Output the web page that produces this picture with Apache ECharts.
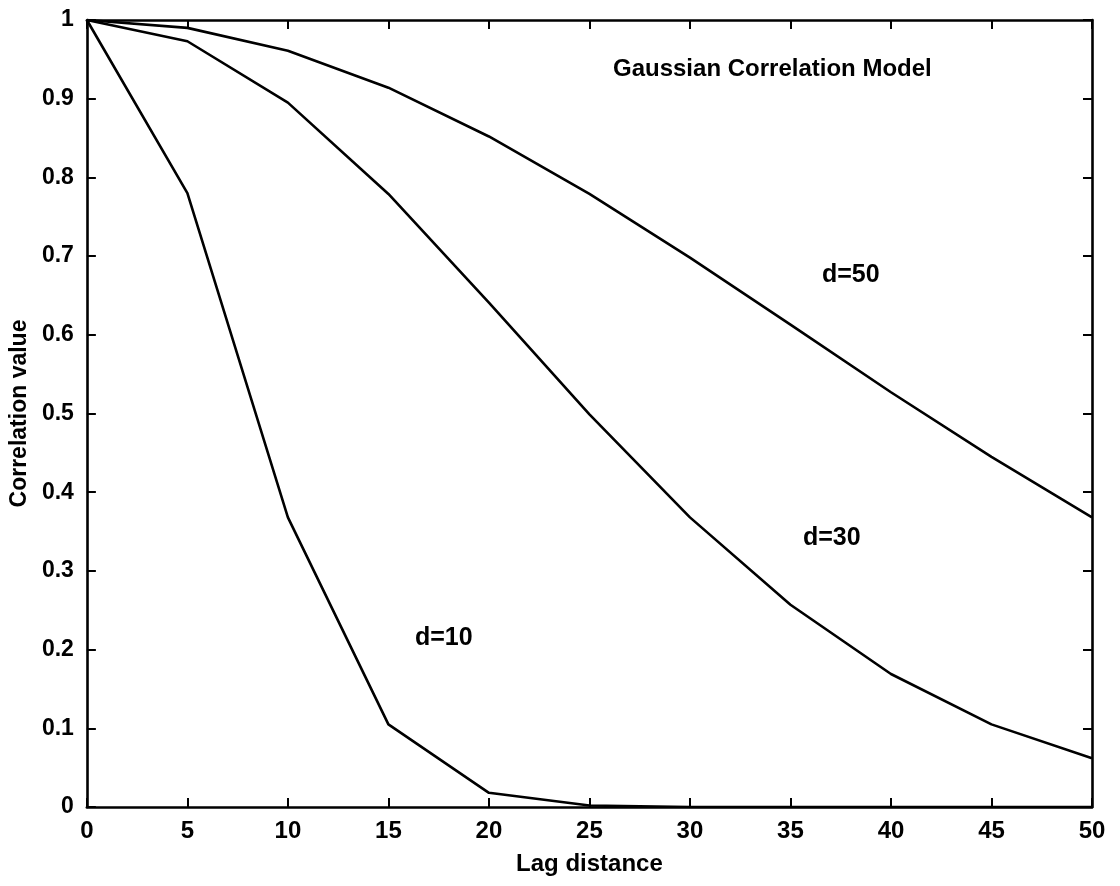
<!DOCTYPE html>
<html>
<head>
<meta charset="utf-8">
<script src="https://cdn.jsdelivr.net/npm/echarts@6/dist/echarts.min.js"></script>
<style>
html,body{margin:0;padding:0;background:#fff;}
#chart{width:1120px;height:886px;}
</style>
</head>
<body>
<div id="chart"></div>
<script>
const lags = [0, 5, 10, 15, 20, 25, 30, 35, 40, 45, 50];
const d10 = [1, 0.78, 0.368, 0.105, 0.018, 0.002, 0, 0, 0, 0, 0];
const d30 = [1, 0.973, 0.895, 0.779, 0.641, 0.499, 0.368, 0.257, 0.169, 0.105, 0.062];
const d50 = [1, 0.99, 0.961, 0.914, 0.852, 0.779, 0.698, 0.613, 0.527, 0.445, 0.368];
const curveLabels = ['d=10', 'd=30', 'd=50'];
const chartTitle = 'Gaussian Correlation Model';
const xTitle = 'Lag distance';
const yTitle = 'Correlation value';

const FONT = '"Liberation Sans", Arial, Helvetica, sans-serif';
const pair = (xs, ys) => xs.map((x, i) => [x, ys[i]]);

const chart = echarts.init(document.getElementById('chart'), null, {renderer: 'canvas'});

const lineStyle = {color: '#000', width: 2.6};
const mkSeries = (name, vals) => ({
  name: name, type: 'line', data: pair(lags, vals), xAxisIndex: 0, yAxisIndex: 0,
  showSymbol: false, symbol: 'none', smooth: false, lineStyle: lineStyle,
  itemStyle: {color: '#000'}, animation: false, z: 3
});

const baseAxisLine = {show: true, onZero: false, lineStyle: {color: '#000', width: 2.6}};
const baseTick = {show: true, inside: true, length: 9, lineStyle: {color: '#000', width: 2}};

chart.setOption({
  backgroundColor: '#fff',
  animation: false,
  grid: {left: 84, right: 28, top: 20, bottom: 79, containLabel: false},
  xAxis: [
    {type: 'value', min: 0, max: 50, interval: 5, position: 'bottom',
     axisLine: baseAxisLine, axisTick: baseTick, splitLine: {show: false},
     axisLabel: {color: '#000', fontFamily: FONT, fontWeight: 'bold', fontSize: 24, margin: 12},
     name: xTitle, nameLocation: 'middle', nameGap: 45,
     nameTextStyle: {color: '#000', fontFamily: FONT, fontWeight: 'bold', fontSize: 24}},
    {type: 'value', min: 0, max: 50, interval: 5, position: 'top',
     axisLine: baseAxisLine, axisTick: baseTick, splitLine: {show: false},
     axisLabel: {show: false}}
  ],
  yAxis: [
    {type: 'value', min: 0, max: 1, interval: 0.1, position: 'left',
     axisLine: baseAxisLine, axisTick: baseTick, splitLine: {show: false},
     axisLabel: {color: '#000', fontFamily: FONT, fontWeight: 'bold', fontSize: 23, margin: 13},
     name: yTitle, nameLocation: 'middle', nameGap: 50, nameRotate: 90,
     nameTextStyle: {color: '#000', fontFamily: FONT, fontWeight: 'bold', fontSize: 23}},
    {type: 'value', min: 0, max: 1, interval: 0.1, position: 'right',
     axisLine: baseAxisLine, axisTick: baseTick, splitLine: {show: false},
     axisLabel: {show: false}}
  ],
  series: [mkSeries(curveLabels[0], d10), mkSeries(curveLabels[1], d30), mkSeries(curveLabels[2], d50)],
  graphic: [
    {type: 'text', left: 613, top: 57, z: 10,
     style: {text: chartTitle, fill: '#000', font: 'bold 24px ' + FONT}},
    {type: 'text', left: 822, top: 263, z: 10,
     style: {text: curveLabels[2], fill: '#000', font: 'bold 25px ' + FONT}},
    {type: 'text', left: 803, top: 526, z: 10,
     style: {text: curveLabels[1], fill: '#000', font: 'bold 25px ' + FONT}},
    {type: 'text', left: 415, top: 626, z: 10,
     style: {text: curveLabels[0], fill: '#000', font: 'bold 25px ' + FONT}}
  ]
});
</script>
</body>
</html>
